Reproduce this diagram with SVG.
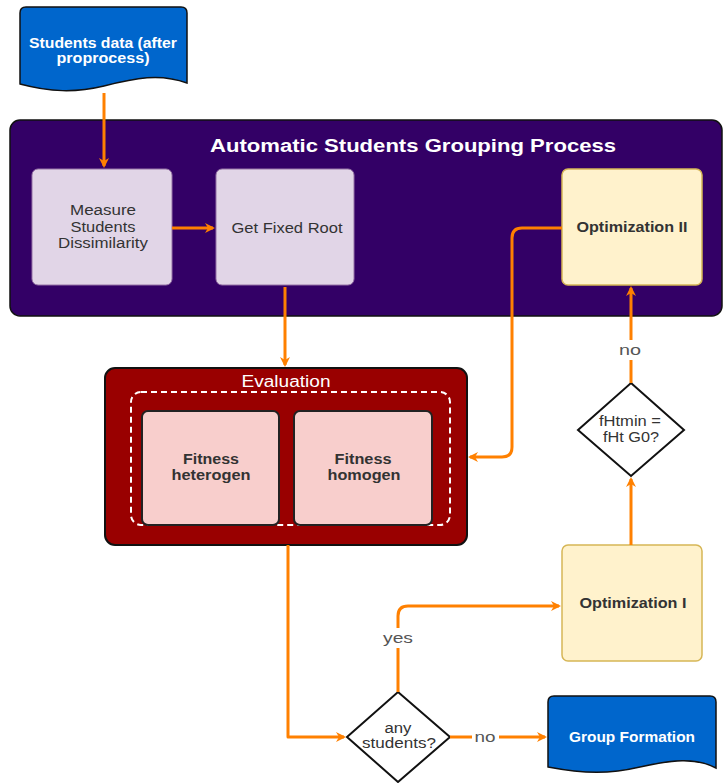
<svg xmlns="http://www.w3.org/2000/svg" width="724" height="783" viewBox="0 0 724 783">
<defs>
<marker id="ah" markerWidth="10" markerHeight="10" refX="8" refY="5" orient="auto" markerUnits="userSpaceOnUse" viewBox="0 0 10 10">
<path d="M0,0 L10,5 L0,10 L3,5 Z" fill="#ff8000"/>
</marker>
<style>
text{font-family:"Liberation Sans",Arial,sans-serif;text-anchor:middle;}
.c{fill:none;stroke:#ff8000;stroke-width:3;stroke-linejoin:round;}
.lbl{font-size:15px;fill:#555;}
.w{fill:#fff;font-weight:bold;font-size:14px;}
.purple{fill:#e1d5e7;stroke:#9673a6;stroke-width:1;}
.yel{fill:#fff2cc;stroke:#d6b656;stroke-width:1.5;}
.pink{fill:#f8cecc;stroke:#222;stroke-width:2;}
.dia{fill:#fff;stroke:#111;stroke-width:2;}
.t{font-size:14px;fill:#333;}
.b{font-weight:bold;}
</style>
</defs>
<rect width="724" height="783" fill="#fff"/>

<g id="process-container">
<rect x="10" y="120" width="712" height="196" rx="10" fill="#330066" stroke="#111" stroke-width="1.5"/>
<text x="413" y="152" textLength="406" lengthAdjust="spacingAndGlyphs" style="font-size:18px;font-weight:bold;fill:#fff">Automatic Students Grouping Process</text>
</g>

<g id="evaluation-container">
<rect x="105" y="368" width="362" height="177" rx="10" fill="#990000" stroke="#111" stroke-width="2"/>
<text x="286" y="387" textLength="89" lengthAdjust="spacingAndGlyphs" style="font-size:16px;fill:#fff">Evaluation</text>
<rect x="131" y="392" width="319" height="133" rx="10" fill="none" stroke="#fff" stroke-width="2" stroke-dasharray="6,4"/>
</g>

<g id="students-data">
<path d="M26,7 H181 Q187,7 187,13 V83 C160,73 135,78 104,86 C75,93 50,92 20,84 V13 Q20,7 26,7 Z" fill="#0066cc" stroke="#111" stroke-width="1.5"/>
<text class="w" x="103" y="48" textLength="148" lengthAdjust="spacingAndGlyphs">Students data (after</text>
<text class="w" x="103" y="63" textLength="93" lengthAdjust="spacingAndGlyphs">proprocess)</text>
</g>

<g id="measure">
<rect class="purple" x="32" y="169" width="140" height="116" rx="6"/>
<text class="t" x="103" y="215" textLength="66" lengthAdjust="spacingAndGlyphs">Measure</text>
<text class="t" x="103" y="232" textLength="65" lengthAdjust="spacingAndGlyphs">Students</text>
<text class="t" x="103" y="248" textLength="90" lengthAdjust="spacingAndGlyphs">Dissimilarity</text>
</g>

<g id="fixed-root">
<rect class="purple" x="216" y="169" width="138" height="116" rx="6"/>
<text class="t" x="287" y="233" textLength="111" lengthAdjust="spacingAndGlyphs">Get Fixed Root</text>
</g>

<g id="opt2">
<rect class="yel" x="562" y="169" width="140" height="116" rx="6"/>
<text class="t b" x="632" y="232" textLength="111" lengthAdjust="spacingAndGlyphs">Optimization II</text>
</g>

<g id="fit-het">
<rect class="pink" x="142" y="411" width="137" height="114" rx="6"/>
<text class="t b" x="211" y="464" textLength="56" lengthAdjust="spacingAndGlyphs">Fitness</text>
<text class="t b" x="211" y="480" textLength="79" lengthAdjust="spacingAndGlyphs">heterogen</text>
</g>

<g id="fit-hom">
<rect class="pink" x="294" y="411" width="138" height="114" rx="6"/>
<text class="t b" x="363" y="464" textLength="57" lengthAdjust="spacingAndGlyphs">Fitness</text>
<text class="t b" x="364" y="480" textLength="73" lengthAdjust="spacingAndGlyphs">homogen</text>
</g>

<g id="decision-fht">
<path class="dia" d="M631,383 L684,430 L631,476 L578,430 Z"/>
<text class="t" x="630" y="426" textLength="62" lengthAdjust="spacingAndGlyphs">fHtmin =</text>
<text class="t" x="631" y="442" textLength="56" lengthAdjust="spacingAndGlyphs">fHt G0?</text>
</g>

<g id="opt1">
<rect class="yel" x="562" y="545" width="140" height="116" rx="6"/>
<text class="t b" x="633" y="608" textLength="107" lengthAdjust="spacingAndGlyphs">Optimization I</text>
</g>

<g id="decision-any">
<path class="dia" d="M398,692 L450,737 L398,782 L347,737 Z"/>
<text class="t" x="398" y="733" textLength="27" lengthAdjust="spacingAndGlyphs">any</text>
<text class="t" x="399" y="748" textLength="74" lengthAdjust="spacingAndGlyphs">students?</text>
</g>

<g id="group-formation">
<path d="M554,696 H710 Q716,696 716,702 V768 C695,757 672,760 640,767 C610,774 585,774 548,767 V702 Q548,696 554,696 Z" fill="#0066cc" stroke="#111" stroke-width="1.5"/>
<text class="w" x="632" y="742" textLength="126" lengthAdjust="spacingAndGlyphs">Group Formation</text>
</g>

<g id="connectors">
<path class="c" d="M104,93 V166" marker-end="url(#ah)"/>
<path class="c" d="M172,228 H213" marker-end="url(#ah)"/>
<path class="c" d="M285,287 V365" marker-end="url(#ah)"/>
<path class="c" d="M562,228 H522 Q512,228 512,238 V447 Q512,457 502,457 H470" marker-end="url(#ah)"/>
<path class="c" d="M631,383 V288" marker-end="url(#ah)"/>
<path class="c" d="M631,545 V479" marker-end="url(#ah)"/>
<path class="c" d="M288,545 V737 H344" marker-end="url(#ah)"/>
<path class="c" d="M398,692 V616 Q398,606 408,606 H559" marker-end="url(#ah)"/>
<path class="c" d="M450,737 H545" marker-end="url(#ah)"/>
<rect x="616" y="340" width="30" height="20" fill="#fff"/>
<text class="lbl" x="630" y="355" textLength="22" lengthAdjust="spacingAndGlyphs">no</text>
<rect x="381" y="628" width="34" height="20" fill="#fff"/>
<text class="lbl" x="398" y="643" textLength="30" lengthAdjust="spacingAndGlyphs">yes</text>
<rect x="472" y="728" width="27" height="18" fill="#fff"/>
<text class="lbl" x="485" y="742" textLength="21" lengthAdjust="spacingAndGlyphs">no</text>
</g>
</svg>
